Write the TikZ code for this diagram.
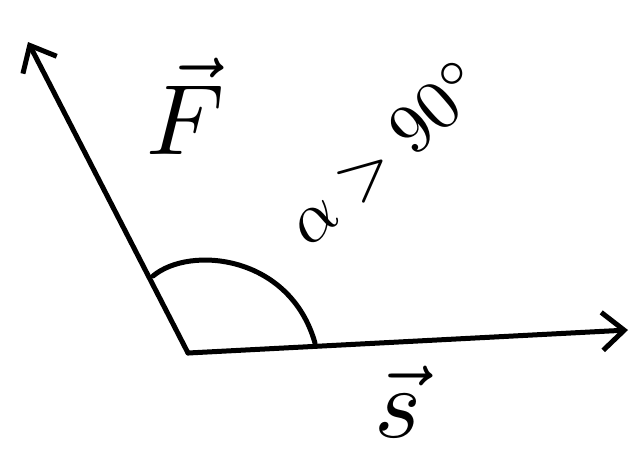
\documentclass[tikz,border=0pt]{standalone}
\usetikzlibrary{arrows.meta}
\begin{document}
\begin{tikzpicture}[x=1pt,y=-1pt,line width=5pt,line cap=round,line join=round,>={Straight Barb[length=22pt,width=38pt,line width=5pt]}]
\useasboundingbox (0,0) rectangle (637,456);
\coordinate (O) at (188,353);
\coordinate (Ftip) at (28,42);
\coordinate (stip) at (628,330);
\draw[->] (O) -- (Ftip);
\draw[->] (O) -- (stip);
\draw (153,276) .. controls (190,245) and (290,255) .. (315,343);
\node[scale=10] (Flabel) at (186,106) {$\vec{F}$};
\node[scale=10] (slabel) at (398,402) {$\vec{s}$};
\node[scale=7,rotate=41] (alpha) at (385,152) {$\alpha > 90^\circ$};
\end{tikzpicture}
\end{document}
